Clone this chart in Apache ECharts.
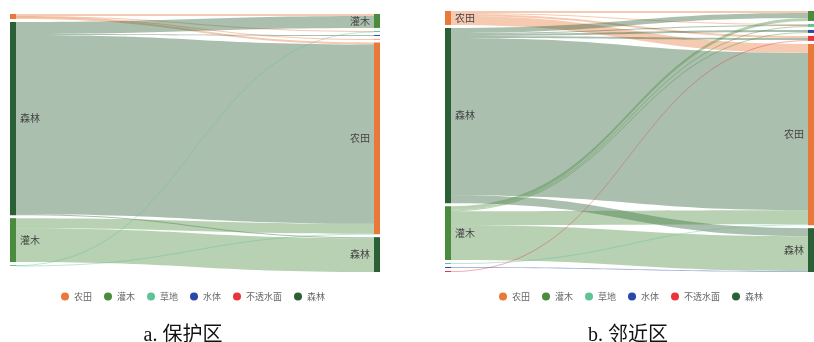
<!DOCTYPE html>
<html>
<head>
<meta charset="utf-8">
<script src="https://cdn.jsdelivr.net/npm/echarts@6/dist/echarts.min.js"></script>
<style>
  html, body { margin: 0; padding: 0; background: #fff; }
  #chart { width: 814px; height: 342px; }
</style>
</head>
<body>
<div id="chart"></div>
<script>
// Land-cover classes and their colours
const classes = ['农田', '灌木', '草地', '水体', '不透水面', '森林'];
const classColors = ['#e8793b', '#4a8b3e', '#5cc495', '#2748a8', '#e8343b', '#2b5f35'];

// Panel titles
const titles = ['a. 保护区', 'b. 邻近区'];

// Node order in each column (start period on the left, end period on the right)
const nodesStartA = ['农田', '森林', '灌木', '草地'];
const nodesEndA = ['灌木', '草地', '水体', '不透水面', '农田', '森林'];
const nodesStartB = ['农田', '森林', '灌木', '草地', '水体', '不透水面'];
const nodesEndB = ['灌木', '草地', '水体', '不透水面', '农田', '森林'];

// Transitions: [from, to, amount]
const flowsA = [
  ['农田', '灌木', 2],
  ['农田', '草地', 0.5],
  ['农田', '不透水面', 0.5],
  ['农田', '农田', 2],
  ['森林', '灌木', 12],
  ['森林', '水体', 1],
  ['森林', '农田', 180],
  ['森林', '森林', 1],
  ['灌木', '农田', 10],
  ['灌木', '森林', 34],
  ['草地', '草地', 0.5],
  ['草地', '农田', 0.5]
];

const flowsB = [
  ['农田', '灌木', 2],
  ['农田', '草地', 1],
  ['农田', '不透水面', 2],
  ['农田', '农田', 9],
  ['森林', '灌木', 5],
  ['森林', '草地', 1],
  ['森林', '水体', 2],
  ['森林', '不透水面', 2],
  ['森林', '农田', 158],
  ['森林', '森林', 8],
  ['灌木', '灌木', 3],
  ['灌木', '草地', 1],
  ['灌木', '水体', 1],
  ['灌木', '农田', 14],
  ['灌木', '森林', 35],
  ['草地', '农田', 1],
  ['水体', '森林', 1],
  ['不透水面', '不透水面', 1]
];

function colorOf(name) {
  return classColors[classes.indexOf(name)];
}

// Start-period nodes are keyed with suffix "|0", end-period nodes with "|1"
function buildNodes(startList, endList) {
  const out = [];
  startList.forEach(n => out.push({ name: n + '|0', depth: 0, itemStyle: { color: colorOf(n) } }));
  endList.forEach(n => out.push({ name: n + '|1', depth: 1, itemStyle: { color: colorOf(n) } }));
  return out;
}

function buildLinks(flows) {
  return flows.map(f => ({ source: f[0] + '|0', target: f[1] + '|1', value: f[2] }));
}

function sankeySeries(startList, endList, flows, box) {
  return Object.assign({
    type: 'sankey',
    nodeWidth: 6,
    nodeGap: 3,
    layoutIterations: 0,
    draggable: false,
    emphasis: { disabled: true },
    data: buildNodes(startList, endList),
    links: buildLinks(flows),
    itemStyle: { borderWidth: 0 },
    lineStyle: { color: 'source', opacity: 0.4, curveness: 0.5 },
    label: {
      show: true,
      position: 'right',
      distance: 4,
      fontSize: 10,
      color: '#444',
      fontFamily: '"Noto Sans CJK SC", sans-serif',
      // only the larger nodes carry a name
      formatter: p => (p.value >= 12 ? p.name.split('|')[0] : '')
    },
    levels: [
      { depth: 0, label: { position: 'right' } },
      { depth: 1, label: { position: 'left' } }
    ]
  }, box);
}

// Empty series that only feed the legends
const legendSeries = classes.map((c, i) => ({
  type: 'scatter',
  name: c,
  data: [],
  itemStyle: { color: classColors[i], opacity: 1 }
}));

function legend(leftX) {
  return {
    data: classes,
    icon: 'circle',
    itemWidth: 8,
    itemHeight: 8,
    itemGap: 12,
    top: 287,
    left: leftX,
    textStyle: { fontSize: 9, color: '#666', fontFamily: '"Noto Sans CJK SC", sans-serif' },
    selectedMode: false
  };
}

const titleFont = {
  fontSize: 20, fontWeight: 'normal', color: '#111',
  fontFamily: '"Liberation Serif", "Noto Sans CJK SC", serif'
};

const chart = echarts.init(document.getElementById('chart'), null, { renderer: 'canvas' });

chart.setOption({
  animation: false,
  backgroundColor: '#fff',
  title: [
    { text: titles[0], left: 178, top: 321, textAlign: 'center', textStyle: titleFont },
    { text: titles[1], left: 623, top: 321, textAlign: 'center', textStyle: titleFont }
  ],
  legend: [legend(56), legend(494)],
  grid: { left: 0, top: 0, width: 1, height: 1, show: false },
  xAxis: { show: false },
  yAxis: { show: false },
  series: [
    sankeySeries(nodesStartA, nodesEndA, flowsA, { left: 10, right: 434, top: 14, bottom: 70 }),
    sankeySeries(nodesStartB, nodesEndB, flowsB, { left: 445, right: 0, top: 11, bottom: 70 })
  ].concat(legendSeries)
});
</script>
</body>
</html>
